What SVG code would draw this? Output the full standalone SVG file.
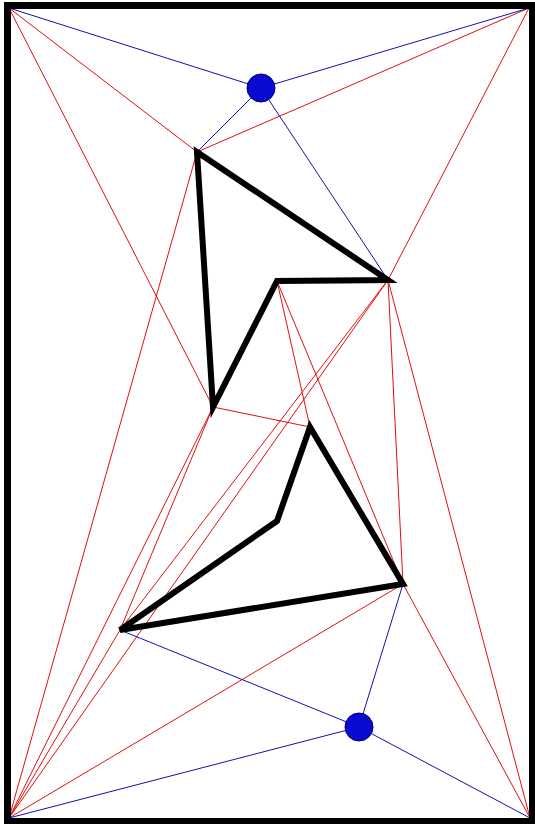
<svg xmlns="http://www.w3.org/2000/svg" width="535" height="824" viewBox="0 0 535 824">
<style>
.r{stroke:#e01010;stroke-width:1;fill:none}
.b{stroke:#1010b0;stroke-width:1;fill:none}
.p{stroke:#000;stroke-width:6;fill:none;stroke-linejoin:miter}
.dot{fill:#0a0ad0;stroke:#000080;stroke-width:1}
</style>
<rect x="0" y="0" width="535" height="824" fill="#fff"/>
<g id="connectors">
<line class="r" x1="9" y1="8" x2="197" y2="152"/>
<line class="r" x1="9" y1="8" x2="213" y2="407"/>
<line class="r" x1="529" y1="8" x2="197" y2="152"/>
<line class="r" x1="529" y1="8" x2="388" y2="280"/>
<line class="r" x1="197" y1="152" x2="9" y2="818"/>
<line class="r" x1="213" y1="407" x2="310" y2="427"/>
<line class="r" x1="213" y1="407" x2="9" y2="818"/>
<line class="r" x1="213" y1="407" x2="120" y2="630"/>
<line class="r" x1="388" y1="280" x2="120" y2="630"/>
<line class="r" x1="388" y1="280" x2="9" y2="818"/>
<line class="r" x1="388" y1="280" x2="403" y2="584"/>
<line class="r" x1="388" y1="280" x2="530" y2="818"/>
<line class="r" x1="277" y1="281" x2="310" y2="427"/>
<line class="r" x1="277" y1="281" x2="403" y2="584"/>
<line class="r" x1="403" y1="584" x2="530" y2="818"/>
<line class="r" x1="403" y1="584" x2="9" y2="818"/>
<line class="r" x1="120" y1="630" x2="9" y2="818"/>
<line class="b" x1="9" y1="8" x2="261" y2="88"/>
<line class="b" x1="529" y1="8" x2="261" y2="88"/>
<line class="b" x1="261" y1="88" x2="197" y2="152"/>
<line class="b" x1="261" y1="88" x2="388" y2="280"/>
<line class="b" x1="359" y1="727" x2="120" y2="630"/>
<line class="b" x1="359" y1="727" x2="403" y2="584"/>
<line class="b" x1="359" y1="727" x2="9" y2="818"/>
<line class="b" x1="359" y1="727" x2="530" y2="818"/>
</g>
<g id="border"><rect x="7.5" y="5.5" width="525" height="816" fill="none" stroke="#000" stroke-width="7"/></g>
<g id="obstacle1"><polygon class="p" points="197,152 388,280 277,281 213,407"/></g>
<g id="obstacle2"><polygon class="p" points="310,427 403,584 120,630 277,521"/></g>
<g id="point1"><circle class="dot" cx="261" cy="88" r="14"/></g>
<g id="point2"><circle class="dot" cx="359" cy="727" r="14"/></g>
</svg>
